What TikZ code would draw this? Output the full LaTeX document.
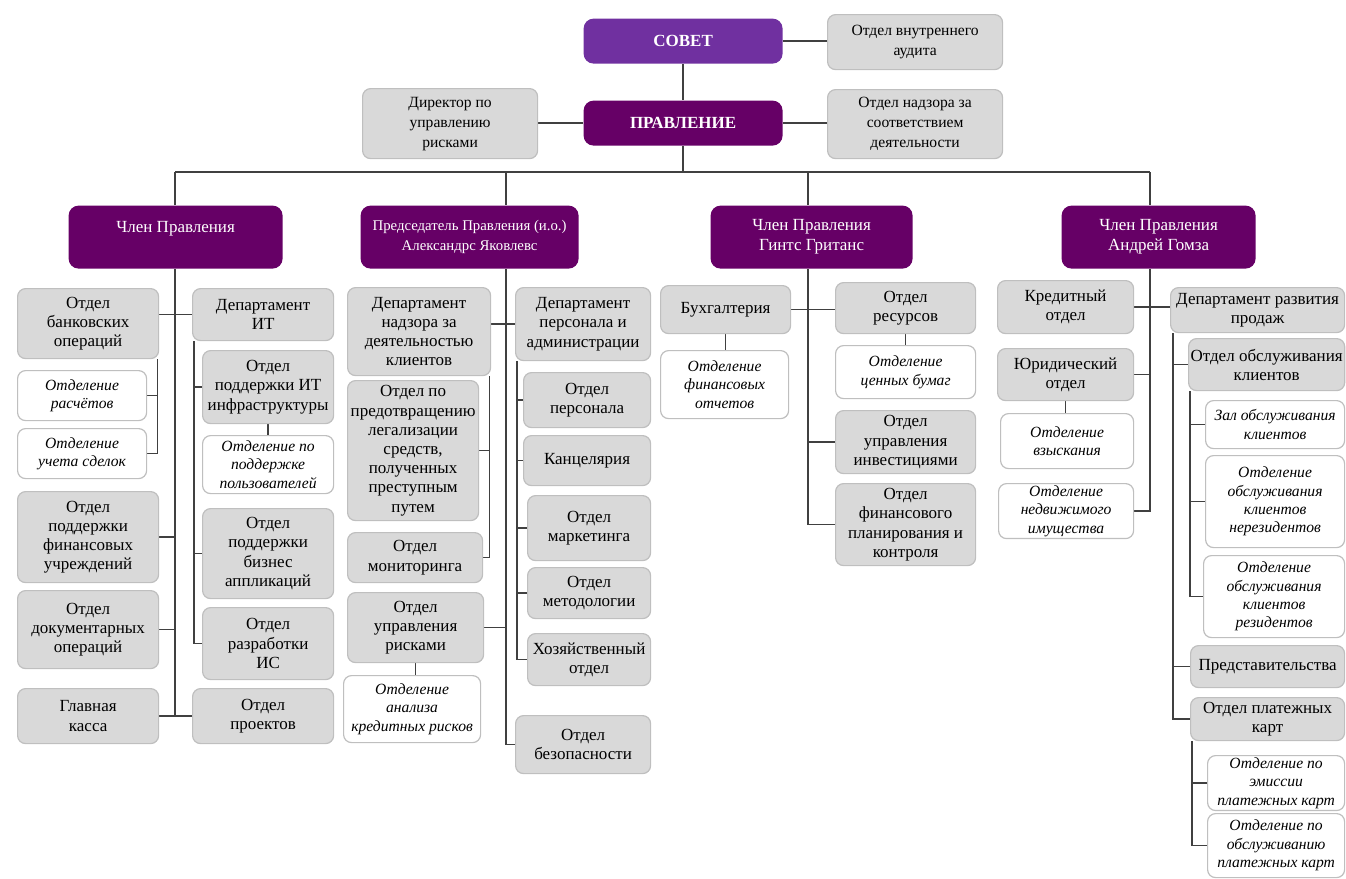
\documentclass[tikz,border=0pt]{standalone}
\usepackage{fontspec}
\setmainfont{Liberation Serif}
\usetikzlibrary{backgrounds}
\definecolor{boardpurple}{HTML}{7030A0}
\definecolor{boarddark}{HTML}{660066}
\definecolor{boxgray}{HTML}{D9D9D9}
\definecolor{boxline}{HTML}{BFBFBF}
\definecolor{linkgray}{HTML}{404040}
\begin{document}
\begin{tikzpicture}[x=0.5pt, y=-0.5pt,
      sz/.style 2 args={anchor=north west, minimum width=#1*0.5pt, minimum height=#2*0.5pt},
      orgbox/.style={rounded corners=4pt, align=center, inner sep=1pt, line width=0.6pt},
      gbox/.style={orgbox, draw=boxline, fill=boxgray, font=\fontsize{8.5}{9.6}\selectfont},
      wbox/.style={orgbox, draw=boxline, fill=white, font=\fontsize{7.8}{9.2}\selectfont\itshape},
      tbox/.style={gbox, font=\fontsize{7.8}{10}\selectfont},
      mbox/.style={orgbox, fill=boarddark, text=white, rounded corners=5pt, font=\fontsize{8.5}{10}\selectfont},
      topbox/.style={mbox, font=\fontsize{8.5}{10}\selectfont\bfseries},
      link/.style={draw=linkgray, line width=0.7pt}]
   \useasboundingbox (0,0) rectangle (1346,879);
   % top level
   \node[topbox, fill=boardpurple, sz={199}{45}] (sovet) at (583,18) {СОВЕТ};
   \node[topbox, sz={199}{45}] (prav) at (583,100) {ПРАВЛЕНИЕ};
   \node[tbox, sz={175}{55}] (audit) at (827,14) {Отдел внутреннего\\аудита};
   \node[tbox, sz={175}{70}] (riskdir) at (362,88) {Директор по\\управлению\\рисками};
   \node[tbox, sz={175}{69}] (compl) at (827,89) {Отдел надзора за\\соответствием\\деятельности};
   % members of the board
   \node[mbox, sz={214}{63}] (m1) at (68,205) {Член Правления\\\mbox{}};
   \node[mbox, sz={218}{63}, font=\fontsize{7.4}{10}\selectfont] (m2) at (360,205) {Председатель Правления (и.о.)\\Александрс Яковлевс};
   \node[mbox, sz={202}{63}] (m3) at (710,205) {Член Правления\\Гинтс Гританс};
   \node[mbox, sz={194}{63}] (m4) at (1061,205) {Член Правления\\Андрей Гомза};
   \coordinate (b1) at (175,172);
   \coordinate (b2) at (506,172);
   \coordinate (b3) at (808,172);
   \coordinate (b4) at (1150,172);
   % column 1
   \node[gbox, sz={141}{70}] (bank) at (17,288) {Отдел\\банковских\\операций};
   \node[gbox, sz={141}{52}] (dit) at (192,288) {Департамент\\ИТ};
   \node[wbox, sz={129}{50}] (ras) at (17,370) {Отделение\\расчётов};
   \node[wbox, sz={129}{50}] (uch) at (17,428) {Отделение\\учета сделок};
   \node[gbox, sz={131}{73}] (itinf) at (202,350) {Отдел\\поддержки ИТ\\инфраструктуры};
   \node[wbox, sz={131}{58}] (pol) at (202,435) {Отделение по\\поддержке\\пользователей};
   \node[gbox, sz={141}{91}] (fin) at (17,491) {Отдел\\поддержки\\финансовых\\учреждений};
   \node[gbox, sz={131}{90}] (biz) at (202,508) {Отдел\\поддержки\\бизнес\\аппликаций};
   \node[gbox, sz={141}{78}] (doc) at (17,590) {Отдел\\документарных\\операций};
   \node[gbox, sz={131}{72}] (dev) at (202,607) {Отдел\\разработки\\ИС};
   \node[gbox, sz={141}{55}] (kassa) at (17,688) {Главная\\касса};
   \node[gbox, sz={141}{55}] (proj) at (192,688) {Отдел\\проектов};
   % column 2
   \node[gbox, sz={143}{88}] (dnad) at (347,287) {Департамент\\надзора за\\деятельностью\\клиентов};
   \node[gbox, sz={135}{73}] (dper) at (515,287) {Департамент\\персонала и\\администрации};
   \node[gbox, sz={131}{140}] (prev) at (347,380) {Отдел по\\предотвращению\\легализации\\средств,\\полученных\\преступным\\путем};
   \node[gbox, sz={135}{50}] (mon) at (347,532) {Отдел\\мониторинга};
   \node[gbox, sz={136}{70}] (urisk) at (347,592) {Отдел\\управления\\рисками};
   \node[wbox, sz={137}{67}] (akr) at (343,675) {Отделение\\анализа\\кредитных рисков};
   \node[gbox, sz={127}{55}] (pers) at (523,372) {Отдел\\персонала};
   \node[gbox, sz={127}{50}] (kanc) at (523,435) {Канцелярия};
   \node[gbox, sz={123}{65}] (mark) at (527,495) {Отдел\\маркетинга};
   \node[gbox, sz={123}{51}] (meth) at (527,567) {Отдел\\методологии};
   \node[gbox, sz={123}{52}] (hoz) at (527,633) {Хозяйственный\\отдел};
   \node[gbox, sz={135}{58}] (bez) at (515,715) {Отдел\\безопасности};
   % column 3
   \node[gbox, sz={130}{48}] (buh) at (660,285) {Бухгалтерия};
   \node[gbox, sz={140}{51}] (res) at (835,282) {Отдел\\ресурсов};
   \node[wbox, sz={128}{68}] (fot) at (660,350) {Отделение\\финансовых\\отчетов};
   \node[wbox, sz={140}{53}] (cb) at (835,345) {Отделение\\ценных бумаг};
   \node[gbox, sz={140}{63}] (inv) at (835,410) {Отдел\\управления\\инвестициями};
   \node[gbox, sz={140}{82}] (plan) at (835,483) {Отдел\\финансового\\планирования и\\контроля};
   % column 4
   \node[gbox, sz={136}{53}] (kred) at (997,280) {Кредитный\\отдел};
   \node[gbox, sz={174}{45}] (drp) at (1170,287) {Департамент развития\\продаж};
   \node[gbox, sz={136}{52}] (jur) at (997,348) {Юридический\\отдел};
   \node[wbox, sz={133}{55}] (vzy) at (1000,413) {Отделение\\взыскания};
   \node[wbox, sz={135}{50}] (ned) at (998,483) {Отделение\\недвижимого\\имущества};
   \node[gbox, sz={156}{52}] (obsl) at (1188,338) {Отдел обслуживания\\клиентов};
   \node[wbox, sz={139}{48}] (zal) at (1205,400) {Зал обслуживания\\клиентов};
   \node[wbox, sz={139}{92}] (nrez) at (1205,455) {Отделение\\обслуживания\\клиентов\\нерезидентов};
   \node[wbox, sz={141}{82}] (rez) at (1203,555) {Отделение\\обслуживания\\клиентов\\резидентов};
   \node[gbox, sz={154}{42}] (pred) at (1190,645) {Представительства};
   \node[gbox, sz={154}{43}] (kart) at (1190,697) {Отдел платежных\\карт};
   \node[wbox, sz={137}{52}] (emis) at (1207,755) {Отделение по\\эмиссии\\платежных карт};
   \node[wbox, sz={137}{64}] (okart) at (1207,813) {Отделение по\\обслуживанию\\платежных карт};
   % connectors
   \begin{scope}[on background layer]
      \draw[link] (sovet) -- (prav);
      \draw[link] (sovet.east) -- (sovet.east -| audit.west);
      \draw[link] (prav.west) -- (prav.west -| riskdir.east);
      \draw[link] (prav.east) -- (prav.east -| compl.west);
      \draw[link] (prav.south) -- (prav.south |- b1);
      \draw[link] (b1) -- (b4);
      \foreach \i in {1,...,4} {
         \draw[link] (b\i) -- (m\i.north -| b\i);
      }
      % column 1
      \draw[link] (m1.south -| b1) -- (kassa.east -| b1);
      \draw[link] (bank.east |- dit.west) -- (dit.west);
      \draw[link] (fin.east) -- (fin.east -| b1);
      \draw[link] (doc.east) -- (doc.east -| b1);
      \draw[link] (kassa.east) -- (proj.west);
      \coordinate (sbank) at ([xshift=-1pt]bank.south east);
      \draw[link] (sbank) |- (uch.east);
      \draw[link] (ras.east) -- (ras.east -| sbank);
      \coordinate (sdit) at ([xshift=1pt]dit.south west);
      \draw[link] (sdit) |- (dev.west);
      \foreach \n in {itinf, biz} {
         \draw[link] (\n.west -| sdit) -- (\n.west);
      }
      \draw[link] (itinf.south) -- (pol.north);
      % column 2
      \draw[link] (m2.south -| b2) -- (bez.west -| b2) -- (bez.west);
      \draw[link] (dnad.east |- dper.west) -- (dper.west);
      \coordinate (sdnad) at ([xshift=-1pt]dnad.south east);
      \draw[link] (sdnad) |- (mon.east);
      \draw[link] (prev.east) -- (prev.east -| sdnad);
      \draw[link] (urisk.east) -- (urisk.east -| b2);
      \draw[link] (urisk.south) -- (urisk.south |- akr.north);
      \coordinate (sdper) at ([xshift=1pt]dper.south west);
      \draw[link] (sdper) |- (hoz.west);
      \foreach \n in {pers, kanc, mark, meth} {
         \draw[link] (\n.west -| sdper) -- (\n.west);
      }
      % column 3
      \draw[link] (m3.south -| b3) -- (plan.west -| b3) -- (plan.west);
      \draw[link] (buh.east) -- (buh.east -| res.west);
      \draw[link] (buh.south) -- (buh.south |- fot.north);
      \draw[link] (res.south) -- (res.south |- cb.north);
      \draw[link] (inv.west) -- (inv.west -| b3);
      % column 4
      \draw[link] (m4.south -| b4) -- (ned.east -| b4) -- (ned.east);
      \draw[link] (kred.east) -- (kred.east -| drp.west);
      \draw[link] (jur.east) -- (jur.east -| b4);
      \draw[link] (jur.south) -- (jur.south |- vzy.north);
      \coordinate (sdrp) at ([xshift=1.5pt]drp.south west);
      \draw[link] (sdrp) |- (kart.west);
      \foreach \n in {obsl, pred} {
         \draw[link] (\n.west -| sdrp) -- (\n.west);
      }
      \coordinate (sobsl) at ([xshift=1pt]obsl.south west);
      \draw[link] (sobsl) |- (rez.west);
      \foreach \n in {zal, nrez} {
         \draw[link] (\n.west -| sobsl) -- (\n.west);
      }
      \coordinate (skart) at ([xshift=1pt]kart.south west);
      \draw[link] (skart) |- (okart.west);
      \draw[link] (emis.west -| skart) -- (emis.west);
   \end{scope}
\end{tikzpicture}
\end{document}
